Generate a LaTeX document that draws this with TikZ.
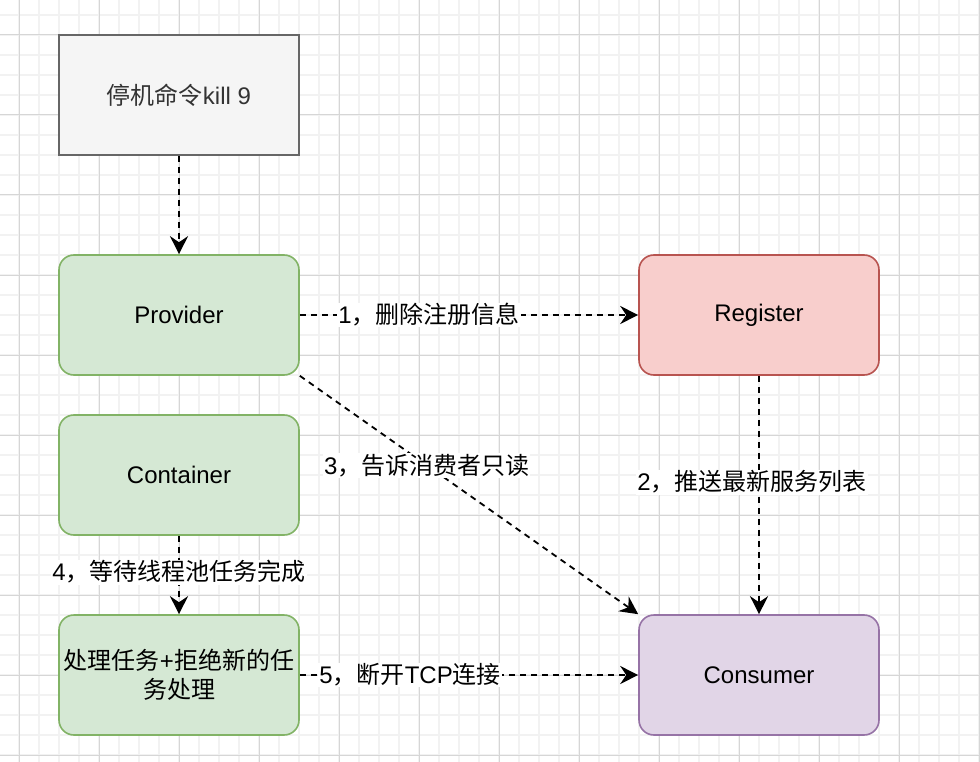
\documentclass[tikz,border=0pt]{standalone}
\usepackage{fontspec}
\setmainfont{Liberation Sans}
\newfontfamily\cjk{Noto Sans CJK SC}
\usetikzlibrary{arrows.meta}
\definecolor{gfill}{HTML}{F5F5F5}
\definecolor{gline}{HTML}{666666}
\definecolor{gtext}{HTML}{333333}
\definecolor{grfill}{HTML}{D5E8D4}
\definecolor{grline}{HTML}{82B366}
\definecolor{rfill}{HTML}{F8CECC}
\definecolor{rline}{HTML}{B85450}
\definecolor{pfill}{HTML}{E1D5E7}
\definecolor{pline}{HTML}{9673A6}
\definecolor{minorgrid}{HTML}{F2F2F2}
\definecolor{majorgrid}{HTML}{D6D6D6}
\tikzset{
  box/.style={minimum width=240pt, minimum height=120pt, line width=1.6pt,
    font=\fontsize{24}{29}\selectfont, align=center, inner sep=2pt},
  graybox/.style={box, draw=gline, fill=gfill, text=gtext},
  greenbox/.style={box, draw=grline, fill=grfill, rounded corners=15pt},
  redbox/.style={box, draw=rline, fill=rfill, rounded corners=15pt},
  purplebox/.style={box, draw=pline, fill=pfill, rounded corners=15pt},
  conn/.style={line width=1.8pt, dash pattern=on 6pt off 5pt,
    -{Stealth[length=18pt,width=18pt,inset=6pt]}},
  lbl/.style={fill=white, inner sep=1pt, font=\fontsize{24}{29}\selectfont, text=black}
}
\begin{document}
\begin{tikzpicture}[x=1pt,y=-1pt]
\useasboundingbox (0,0) rectangle (980,762);
\fill[white] (0,0) rectangle (980,762);
% grid
\foreach \x in {-1,19,...,979} \draw[minorgrid, line width=1.2pt] (\x,0) -- (\x,762);
\foreach \y in {15,35,...,755} \draw[minorgrid, line width=1.2pt] (0,\y) -- (980,\y);
\foreach \x in {19,99,...,979} \draw[majorgrid, line width=1pt] (\x,0) -- (\x,762);
\foreach \y in {35,115,...,755} \draw[majorgrid, line width=1pt] (0,\y) -- (980,\y);
% nodes
\node[graybox] (kill) at (179,95) {{\cjk 停机命令}kill 9};
\node[greenbox] (prov) at (179,315) {Provider};
\node[greenbox] (cont) at (179,475) {Container};
\node[greenbox] (proc) at (179,675) {{\cjk 处理任务}+{\cjk 拒绝新的任}\\{\cjk 务处理}};
\node[redbox] (reg) at (759,315) {Register};
\node[purplebox] (cons) at (759,675) {Consumer};
% connectors
\draw[conn] (kill.south) -- (prov.north);
\draw[conn] (prov.east) -- node[lbl, pos=0.382] (l1) {1{\cjk ，删除注册信息}} (reg.west);
\draw[conn] (reg.south) -- node[lbl, pos=0.446, xshift=-7pt] (l2) {2{\cjk ，推送最新服务列表}} (cons.north);
\draw[conn] (prov.south east) -- node[lbl, pos=0.375] (l3) {3{\cjk ，告诉消费者只读}} (cons.north west);
\draw[conn] (cont.south) -- node[lbl, pos=0.4625] (l4) {4{\cjk ，等待线程池任务完成}} (proc.north);
\draw[conn] (proc.east) -- node[lbl, pos=0.326] (l5) {5{\cjk ，断开}TCP{\cjk 连接}} (cons.west);
\end{tikzpicture}
\end{document}
